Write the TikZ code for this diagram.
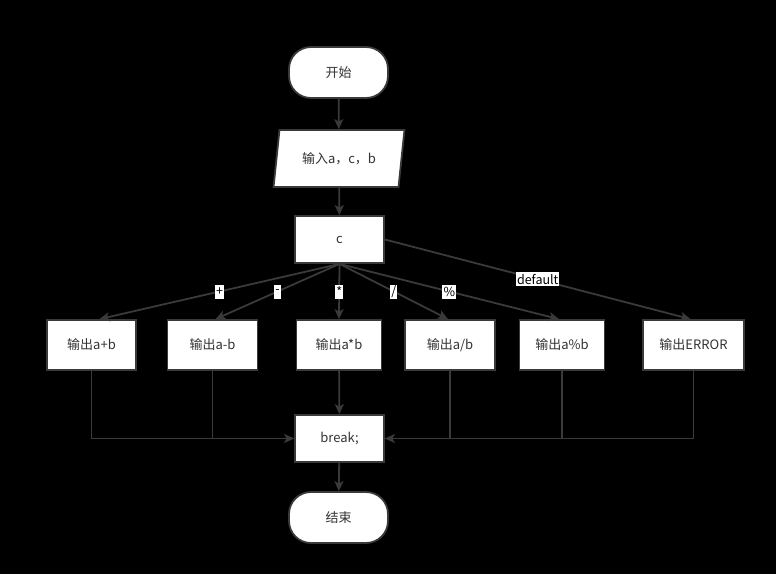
\documentclass[tikz,border=0pt]{standalone}
\usepackage{fontspec}
\setmainfont{Noto Sans CJK SC}
\usetikzlibrary{arrows.meta,shapes.geometric,shapes.misc}
\definecolor{ln}{HTML}{3a3a3a}
\definecolor{tx}{HTML}{333333}
\begin{document}
\begin{tikzpicture}[x=1pt,y=-1pt,
  base/.style={draw=ln, line width=1.8pt, fill=white, text=tx, font=\fontsize{13}{15}\selectfont, inner sep=0pt},
  term/.style={base, rectangle, rounded corners=22pt, minimum width=99pt, minimum height=51pt},
  io/.style={base, trapezium, trapezium left angle=73.4, trapezium right angle=106.6, trapezium stretches=true, minimum width=132pt, minimum height=57pt},
  box/.style={base, rectangle, minimum height=#1},
  box/.default=50pt,
  arr/.style={draw=ln, line width=1.8pt, -{Stealth[length=10pt,width=9pt,inset=2.5pt]}},
  joinline/.style={draw=ln, line width=1.8pt},
  lbl/.style={fill=white, text=black, inner xsep=1pt, inner ysep=0pt, minimum height=14pt, font=\fontsize{12.5}{14}\selectfont}]
\fill[black] (0,0) rectangle (776,574);
\useasboundingbox (0,0) rectangle (776,574);

\node[term] (st) at (338.5,72.5) {开始};
\node[io] (inp) at (339,158.5) {输入a，c，b};
\node[box=47pt, minimum width=89pt] (c) at (339.5,239.5) {c};

\node[box, minimum width=89pt] (apb) at (91.5,345) {输出a+b};
\node[box, minimum width=90pt] (amb) at (212.5,345) {输出a-b};
\node[box, minimum width=85pt] (atb) at (339,345) {输出a*b};
\node[box, minimum width=90pt] (adb) at (450,345) {输出a/b};
\node[box, minimum width=85pt] (apc) at (562,345) {输出a\%b};
\node[box, minimum width=101pt] (err) at (693.5,345) {输出ERROR};

\node[box=47pt, minimum width=89pt] (brk) at (339.5,438.5) {break;};
\node[term] (en) at (338.5,517.5) {结束};

\draw[arr] (st) -- (inp);
\draw[arr] (inp) -- (c);

\draw[arr] (c.south) -- node[lbl]{+} ([xshift=8pt]apb.north);
\draw[arr] (c.south) -- node[lbl]{-} ([xshift=3pt]amb.north);
\draw[arr] (c.south) -- node[lbl]{*} (atb.north);
\draw[arr] (c.south) -- node[lbl]{/} ([xshift=-2pt]adb.north);
\draw[arr] (c.south) -- node[lbl]{\%} ([xshift=-3pt]apc.north);
\draw[arr] (c.east) -- node[lbl]{default} ([xshift=-3pt]err.north);

\draw[arr] (atb) -- (brk);
\draw[joinline] (amb.south) |- (brk.west);
\draw[arr] (apb.south) |- (brk.west);
\draw[joinline] (adb.south) |- (brk.east);
\draw[joinline] (apc.south) |- (brk.east);
\draw[arr] (err.south) |- (brk.east);
\draw[arr] (brk) -- (en);
\end{tikzpicture}
\end{document}
